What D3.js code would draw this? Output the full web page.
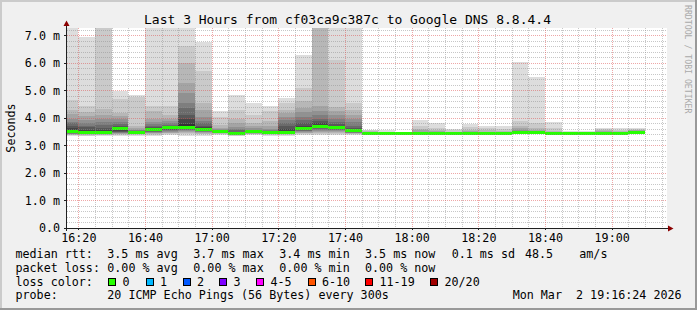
<!DOCTYPE html>
<html>
<head>
<meta charset="utf-8">
<script src="https://cdn.jsdelivr.net/npm/d3@7"></script>
<style>
  body { margin: 0; background: #f0f0f0; }
  svg text { font-family: "DejaVu Sans Mono", monospace; white-space: pre; }
</style>
</head>
<body>
<svg id="chart" width="697" height="310"></svg>
<script>
// ---- data ----
const title = "Last 3 Hours from cf03ca9c387c to Google DNS 8.8.4.4";
const viewStart = "16:16:36";
const viewEnd = "19:16:36";

// 5 minute bins (start time of each)
const binStarts = ["16:15","16:20","16:25","16:30","16:35","16:40","16:45","16:50","16:55",
  "17:00","17:05","17:10","17:15","17:20","17:25","17:30","17:35","17:40","17:45","17:50",
  "17:55","18:00","18:05","18:10","18:15","18:20","18:25","18:30","18:35","18:40","18:45",
  "18:50","18:55","19:00","19:05"];

// median rtt per bin (ms)
const medians = [3.51,3.48,3.48,3.61,3.48,3.57,3.64,3.66,3.57,3.50,3.43,3.49,3.47,3.48,
  3.61,3.69,3.64,3.53,3.43,3.43,3.43,3.43,3.43,3.43,3.43,3.43,3.43,3.48,3.48,3.43,3.43,
  3.43,3.44,3.43,3.48];

// lost pings per bin (all zero -> green)
const binLoss = [0,0,0,0,0,0,0,0,0,0,0,0,0,0,0,0,0,0,0,0,0,0,0,0,0,0,0,0,0,0,0,0,0,0,0];

// smoke: upper ping of each pair, outer pair first (ms)
const smokeHi = [
  [8.0,4.67,4.30,4.15,3.98,3.85,3.80,3.70,3.62,3.56],
  [6.95,4.44,4.22,4.06,3.92,3.80,3.72,3.66,3.58,3.52],
  [8.5,8.0,4.32,4.10,3.95,3.85,3.75,3.65,3.58,3.52],
  [4.98,4.68,4.18,4.08,3.95,3.85,3.78,3.72,3.68,3.64],
  [4.82,4.78,3.72,3.64,3.58,3.55,3.53,3.51,3.50,3.49],
  [8.0,4.42,4.25,3.95,3.85,3.78,3.72,3.68,3.64,3.60],
  [8.0,4.45,4.12,3.95,3.88,3.80,3.75,3.71,3.68,3.66],
  [8.0,6.60,6.00,5.28,4.90,4.55,4.35,4.12,3.95,3.78],
  [6.76,5.70,4.55,4.28,4.05,3.90,3.80,3.72,3.66,3.60],
  [4.27,4.05,3.75,3.65,3.60,3.57,3.55,3.53,3.52,3.51],
  [4.85,4.28,3.98,3.80,3.68,3.60,3.55,3.50,3.47,3.45],
  [4.55,4.10,3.82,3.70,3.62,3.58,3.55,3.53,3.51,3.50],
  [4.42,4.25,3.88,3.70,3.60,3.55,3.52,3.50,3.49,3.48],
  [4.73,4.55,4.30,4.18,4.05,3.92,3.80,3.70,3.60,3.52],
  [6.28,5.10,4.60,4.38,4.20,4.05,3.92,3.82,3.72,3.65],
  [9.0,8.5,8.0,4.45,4.25,4.10,3.98,3.88,3.80,3.74],
  [8.0,6.12,4.40,4.25,4.10,3.95,3.85,3.78,3.72,3.67],
  [8.0,4.55,4.30,4.10,3.95,3.85,3.72,3.65,3.60,3.56],
  [3.58,3.56,3.53,3.50,3.48,3.47,3.46,3.45,3.44,3.44],
  [3.55,3.50,3.48,3.47,3.46,3.45,3.45,3.44,3.44,3.44],
  [3.49,3.47,3.46,3.45,3.45,3.44,3.44,3.44,3.44,3.44],
  [3.91,3.70,3.60,3.55,3.50,3.48,3.46,3.45,3.44,3.44],
  [3.80,3.65,3.58,3.52,3.49,3.47,3.46,3.45,3.44,3.44],
  [3.60,3.55,3.50,3.48,3.46,3.45,3.44,3.44,3.44,3.44],
  [3.77,3.66,3.58,3.52,3.49,3.47,3.46,3.45,3.44,3.44],
  [3.70,3.62,3.55,3.50,3.48,3.46,3.45,3.44,3.44,3.44],
  [3.70,3.60,3.54,3.50,3.47,3.46,3.45,3.44,3.44,3.44],
  [6.04,3.88,3.72,3.62,3.57,3.54,3.52,3.50,3.49,3.49],
  [5.48,3.80,3.65,3.58,3.54,3.52,3.50,3.49,3.49,3.49],
  [3.84,3.62,3.52,3.48,3.46,3.45,3.44,3.44,3.44,3.44],
  [3.53,3.49,3.47,3.46,3.45,3.44,3.44,3.44,3.44,3.44],
  [3.53,3.49,3.47,3.46,3.45,3.44,3.44,3.44,3.44,3.44],
  [3.65,3.60,3.56,3.53,3.50,3.48,3.47,3.46,3.45,3.45],
  [3.62,3.57,3.53,3.50,3.48,3.47,3.46,3.45,3.44,3.44],
  [3.65,3.60,3.57,3.55,3.53,3.52,3.51,3.50,3.49,3.49]
];

// smoke: lower ping of each pair, outer pair first (ms)
const smokeLo = [
  [3.34,3.37,3.39,3.41,3.42,3.43,3.44,3.45,3.46,3.47],
  [3.33,3.36,3.38,3.40,3.41,3.42,3.43,3.44,3.45,3.46],
  [3.34,3.37,3.39,3.40,3.41,3.42,3.43,3.44,3.45,3.46],
  [3.36,3.38,3.40,3.42,3.44,3.46,3.48,3.50,3.53,3.57],
  [3.36,3.38,3.40,3.41,3.42,3.43,3.44,3.45,3.46,3.47],
  [3.36,3.39,3.42,3.44,3.46,3.48,3.50,3.52,3.53,3.54],
  [3.37,3.40,3.44,3.47,3.50,3.53,3.56,3.58,3.60,3.62],
  [3.36,3.40,3.44,3.48,3.52,3.55,3.58,3.60,3.62,3.64],
  [3.36,3.40,3.43,3.46,3.48,3.50,3.52,3.53,3.54,3.55],
  [3.38,3.40,3.42,3.44,3.45,3.46,3.47,3.48,3.49,3.49],
  [3.34,3.36,3.38,3.39,3.40,3.41,3.41,3.42,3.42,3.42],
  [3.38,3.40,3.42,3.43,3.44,3.45,3.46,3.47,3.48,3.48],
  [3.36,3.38,3.40,3.41,3.42,3.43,3.44,3.45,3.46,3.46],
  [3.35,3.38,3.40,3.41,3.42,3.43,3.44,3.45,3.46,3.47],
  [3.38,3.41,3.44,3.47,3.50,3.52,3.54,3.56,3.58,3.59],
  [3.38,3.42,3.46,3.50,3.54,3.57,3.60,3.62,3.64,3.66],
  [3.38,3.42,3.46,3.49,3.52,3.55,3.57,3.59,3.61,3.62],
  [3.38,3.40,3.42,3.44,3.46,3.47,3.48,3.50,3.51,3.52],
  [3.39,3.40,3.40,3.41,3.41,3.42,3.42,3.42,3.42,3.42],
  [3.39,3.40,3.40,3.41,3.41,3.42,3.42,3.42,3.42,3.42],
  [3.39,3.40,3.40,3.41,3.41,3.42,3.42,3.42,3.42,3.42],
  [3.39,3.40,3.40,3.41,3.41,3.42,3.42,3.42,3.42,3.42],
  [3.39,3.40,3.40,3.41,3.41,3.42,3.42,3.42,3.42,3.42],
  [3.39,3.40,3.40,3.41,3.41,3.42,3.42,3.42,3.42,3.42],
  [3.39,3.40,3.40,3.41,3.41,3.42,3.42,3.42,3.42,3.42],
  [3.39,3.40,3.40,3.41,3.41,3.42,3.42,3.42,3.42,3.42],
  [3.39,3.40,3.40,3.41,3.41,3.42,3.42,3.42,3.42,3.42],
  [3.40,3.41,3.42,3.43,3.44,3.45,3.46,3.46,3.47,3.47],
  [3.40,3.41,3.42,3.43,3.44,3.45,3.46,3.46,3.47,3.47],
  [3.39,3.40,3.40,3.41,3.41,3.42,3.42,3.42,3.42,3.42],
  [3.39,3.40,3.40,3.41,3.41,3.42,3.42,3.42,3.42,3.42],
  [3.39,3.40,3.40,3.41,3.41,3.42,3.42,3.42,3.42,3.42],
  [3.39,3.40,3.41,3.41,3.42,3.42,3.43,3.43,3.43,3.43],
  [3.39,3.40,3.40,3.41,3.41,3.42,3.42,3.42,3.42,3.42],
  [3.40,3.41,3.42,3.43,3.44,3.45,3.46,3.46,3.47,3.47]
];

// legend values
const rttStats = ["3.5 ms avg", "3.7 ms max", "3.4 ms min", "3.5 ms now", "0.1 ms sd"];
const amPerSec = "48.5";
const lossStats = ["0.00 % avg", "0.00 % max", "0.00 % min", "0.00 % now"];
const lossLabels = ["0", "1", "2", "3", "4-5", "6-10", "11-19", "20/20"];
const lossColors = ["#26ff00", "#00b8ff", "#0059ff", "#7e00ff", "#ff00ff", "#ff5500", "#ff0000", "#a10000"];
const probeText = "20 ICMP Echo Pings (56 Bytes) every 300s";
const stamp = "Mon Mar  2 19:16:24 2026";

// ---- layout ----
const W = 697, H = 310;
const pLeft = 67, pRight = 667, pTop = 28, pBottom = 228;
const svg = d3.select("#chart");
const parseHM = d3.timeParse("%H:%M");
const parseHMS = d3.timeParse("%H:%M:%S");

const x = d3.scaleTime()
  .domain([parseHMS(viewStart), parseHMS(viewEnd)])
  .range([pLeft, pRight]);
const y = d3.scaleLinear().domain([0, 7.27]).range([pBottom, pTop]);

// background + rrdtool style shading
svg.append("rect").attr("width", W).attr("height", H).attr("fill", "#f0f0f0");
svg.append("path").attr("d", `M0,0H${W}V2H2V${H}H0Z`).attr("fill", "#cbcbcb");
svg.append("path").attr("d", `M${W},${H}H0V${H-2}H${W-2}V0H${W}Z`).attr("fill", "#999999");

svg.append("rect").attr("x", pLeft).attr("y", pTop)
  .attr("width", pRight - pLeft).attr("height", pBottom - pTop).attr("fill", "#ffffff");

svg.append("clipPath").attr("id", "canvas")
  .append("rect").attr("x", pLeft).attr("y", pTop)
  .attr("width", pRight - pLeft).attr("height", pBottom - pTop);

const plot = svg.append("g").attr("clip-path", "url(#canvas)");

const bins = binStarts.map(function(s, i) {
  let t0 = parseHM(s);
  return { t0: t0, t1: d3.timeMinute.offset(t0, 5), hi: smokeHi[i], lo: smokeLo[i],
           median: medians[i], loss: binLoss[i] };
});

// smoke, outer pair lightest
let half = 10;
let smoke = [];
bins.forEach(function(b) {
  for (let k = 0; k < half; k++) {
    let c = Math.floor(190 / half * (half - (k + 1))) + 50;
    smoke.push({ b: b, hi: b.hi[k], lo: b.lo[k], color: d3.rgb(c, c, c) });
  }
});
plot.selectAll("rect.smoke").data(smoke).enter().append("rect")
  .attr("class", "smoke")
  .attr("x", d => x(d.b.t0))
  .attr("width", d => x(d.b.t1) - x(d.b.t0))
  .attr("y", d => y(d.hi))
  .attr("height", d => y(d.lo) - y(d.hi))
  .attr("fill", d => d.color)
  .attr("shape-rendering", "crispEdges");

// median band coloured by loss
function lossColor(l) {
  if (l === 0) return lossColors[0];
  if (l <= 3) return lossColors[l];
  if (l <= 5) return lossColors[4];
  if (l <= 10) return lossColors[5];
  if (l <= 19) return lossColors[6];
  return lossColors[7];
}
plot.selectAll("rect.med").data(bins).enter().append("rect")
  .attr("class", "med")
  .attr("x", d => x(d.t0))
  .attr("width", d => x(d.t1) - x(d.t0))
  .attr("y", d => y(d.median) - 1.5)
  .attr("height", 3)
  .attr("fill", d => lossColor(d.loss))
  .attr("shape-rendering", "crispEdges");

// grid on top
const grid = svg.append("g").attr("shape-rendering", "crispEdges");
const minorColor = "rgba(143,143,143,0.5)", majorColor = "rgba(222,79,79,0.5)";
let majorY = y.ticks(7).filter(d => d > 0);
let minorY = y.ticks(36).filter(d => d > 0 && Math.abs(d - Math.round(d)) > 1e-6);
let t5 = d3.timeMinute.every(5).range(x.domain()[0], x.domain()[1]);
let t20 = d3.timeMinute.every(20).range(x.domain()[0], x.domain()[1]);
let minorX = t5.filter(d => d.getMinutes() % 20 !== 0);

grid.selectAll("line.hmin").data(minorY).enter().append("line")
  .attr("x1", pLeft).attr("x2", pRight)
  .attr("y1", d => Math.round(y(d)) + 0.5).attr("y2", d => Math.round(y(d)) + 0.5)
  .attr("stroke", minorColor).attr("stroke-dasharray", "1,1");
grid.selectAll("line.vmin").data(minorX).enter().append("line")
  .attr("y1", pTop).attr("y2", pBottom)
  .attr("x1", d => Math.round(x(d)) + 0.5).attr("x2", d => Math.round(x(d)) + 0.5)
  .attr("stroke", minorColor).attr("stroke-dasharray", "1,1");
grid.selectAll("line.hmaj").data(majorY).enter().append("line")
  .attr("x1", pLeft).attr("x2", pRight)
  .attr("y1", d => Math.round(y(d)) + 0.5).attr("y2", d => Math.round(y(d)) + 0.5)
  .attr("stroke", majorColor).attr("stroke-dasharray", "1,1");
grid.selectAll("line.vmaj").data(t20).enter().append("line")
  .attr("y1", pTop).attr("y2", pBottom)
  .attr("x1", d => Math.round(x(d)) + 0.5).attr("x2", d => Math.round(x(d)) + 0.5)
  .attr("stroke", majorColor).attr("stroke-dasharray", "1,1");

// axes
const yAxis = d3.axisLeft(y)
  .tickValues(y.ticks(7))
  .tickFormat(d => d === 0 ? "0.0" : d.toFixed(1) + " m")
  .tickSize(3).tickPadding(4);
const gy = svg.append("g").attr("transform", `translate(${pLeft},0)`).call(yAxis);

const xAxis = d3.axisBottom(x)
  .tickValues(t20)
  .tickFormat(d3.timeFormat("%H:%M"))
  .tickSize(2).tickPadding(4);
const gx = svg.append("g").attr("transform", `translate(0,${pBottom})`).call(xAxis);

[gx, gy].forEach(function(g) {
  g.select(".domain").remove();
  g.selectAll("text").attr("font-family", "DejaVu Sans Mono").attr("font-size", "11.7px").attr("fill", "#000");
  g.selectAll(".tick line").attr("stroke", "#202020").attr("shape-rendering", "crispEdges");
});

svg.append("line").attr("x1", pLeft - 3).attr("x2", 670).attr("y1", pBottom + 0.5).attr("y2", pBottom + 0.5)
  .attr("stroke", "#202020").attr("shape-rendering", "crispEdges");
svg.append("line").attr("x1", pLeft - 0.5).attr("x2", pLeft - 0.5).attr("y1", pBottom + 3).attr("y2", 24)
  .attr("stroke", "#202020").attr("shape-rendering", "crispEdges");
svg.append("path").attr("d", "M668,225.5L673.5,228.5L668,231.5Z").attr("fill", "#8b0000");
svg.append("path").attr("d", "M63.5,26L66.5,20.5L69.5,26Z").attr("fill", "#8b0000");

// titles
svg.append("text").attr("x", 347.5).attr("y", 23.5).attr("text-anchor", "middle")
  .attr("font-size", "13px").text(title);
svg.append("text").attr("transform", "translate(15,128) rotate(-90)")
  .attr("text-anchor", "middle").attr("font-size", "11.7px").text("Seconds");
svg.append("text").attr("transform", "translate(685,5) rotate(90)")
  .attr("font-size", "8.2px").attr("fill", "#aaaaaa").text("RRDTOOL / TOBI OETIKER");

// legend
const cols = [107.3, 193.3, 279.3, 365, 451.7];
const rows = [258.3, 271.7, 285.7, 299.3];
const leg = svg.append("g").attr("font-size", "11.7px");
function put(tx, ty, s) { leg.append("text").attr("x", tx).attr("y", ty).text(s); }

put(15.5, rows[0], "median rtt:");
rttStats.forEach((s, i) => put(cols[i], rows[0], s));
put(525, rows[0], amPerSec);
put(579.3, rows[0], "am/s");

put(15.5, rows[1], "packet loss:");
lossStats.forEach((s, i) => put(cols[i], rows[1], s));

put(15.5, rows[2], "loss color:");
const boxX = [108, 145.5, 182.5, 219, 256, 307.5, 365, 430];
const lossItems = leg.selectAll("g.loss").data(lossLabels).enter().append("g")
  .attr("transform", (d, i) => `translate(${boxX[i]},0)`);
lossItems.append("rect").attr("x", 0.5).attr("y", 278.5).attr("width", 7).attr("height", 7)
  .attr("fill", (d, i) => lossColors[i]).attr("stroke", "#000").attr("shape-rendering", "crispEdges");
lossItems.append("text").attr("x", 14.5).attr("y", rows[2]).text(d => d);

put(15.5, rows[3], "probe:");
put(cols[0], rows[3], probeText);
put(512.7, rows[3], stamp);
</script>
</body>
</html>
